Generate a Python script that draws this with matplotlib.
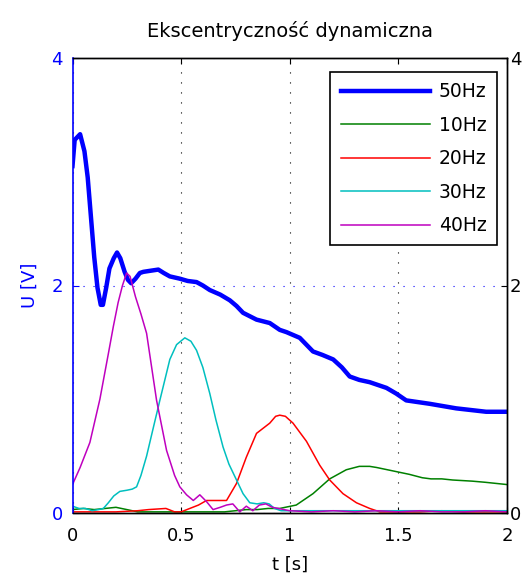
import matplotlib
matplotlib.use("Agg")
import matplotlib.pyplot as plt

plt.rcParams['font.family'] = ['DejaVu Sans']

title = "Ekscentryczność dynamiczna"
xlabel = "t [s]"
ylabel = "U [V]"
series_labels = ["50Hz", "10Hz", "20Hz", "30Hz", "40Hz"]
series_colors = ["#0000ff", "#008000", "#ff0000", "#00bfbf", "#bf00bf"]
xticks = [0, 0.5, 1, 1.5, 2]
xticklabels = ["0", "0.5", "1", "1.5", "2"]
yticks = [0, 2, 4]
yticklabels = ["0", "2", "4"]

t50 = [0, 0.01, 0.035, 0.055, 0.07, 0.085, 0.1, 0.115, 0.13, 0.14, 0.155, 0.17,
       0.19, 0.205, 0.22, 0.24, 0.255, 0.27, 0.29, 0.31, 0.326, 0.36, 0.395, 0.42,
       0.448, 0.494, 0.53, 0.571, 0.60, 0.632, 0.68, 0.724, 0.755, 0.785, 0.847,
       0.908, 0.954, 0.985, 1.046, 1.107, 1.15, 1.20, 1.24, 1.276, 1.32, 1.368,
       1.445, 1.49, 1.536, 1.644, 1.766, 1.904, 2.0]
u50 = [3.05, 3.28, 3.33, 3.18, 2.95, 2.60, 2.25, 1.98, 1.83, 1.83, 1.98, 2.15,
       2.24, 2.29, 2.24, 2.12, 2.05, 2.02, 2.06, 2.11, 2.12, 2.13, 2.14, 2.11,
       2.08, 2.06, 2.04, 2.03, 2.00, 1.96, 1.92, 1.87, 1.82, 1.76, 1.70,
       1.67, 1.61, 1.59, 1.54, 1.42, 1.39, 1.35, 1.28, 1.20, 1.17, 1.15,
       1.10, 1.05, 0.99, 0.96, 0.92, 0.89, 0.89]

t10 = [0, 0.05, 0.1, 0.15, 0.2, 0.25, 0.3, 0.4, 0.5, 0.6, 0.7, 0.75, 0.8, 0.85,
       0.9, 0.954, 1.03, 1.107, 1.184, 1.26, 1.32, 1.368, 1.40, 1.45, 1.5, 1.55,
       1.61, 1.65, 1.7, 1.75, 1.84, 1.9, 1.95, 2.0]
u10 = [0.03, 0.04, 0.03, 0.04, 0.05, 0.03, 0.01, 0.01, 0.01, 0.01, 0.01, 0.02,
       0.03, 0.03, 0.04, 0.04, 0.07, 0.17, 0.30, 0.38, 0.41, 0.41, 0.40, 0.38,
       0.36, 0.34, 0.31, 0.30, 0.30, 0.29, 0.28, 0.27, 0.26, 0.25]

t20 = [0, 0.1, 0.2, 0.3, 0.35, 0.43, 0.47, 0.5, 0.54, 0.58, 0.617, 0.66, 0.709,
       0.755, 0.80, 0.847, 0.908, 0.935, 0.954, 0.98, 1.015, 1.077, 1.138,
       1.184, 1.245, 1.307, 1.368, 1.414, 1.5, 1.6, 1.7, 1.8, 1.9, 2.0]
u20 = [0.01, 0.01, 0.01, 0.02, 0.03, 0.04, 0.01, 0.01, 0.04, 0.07, 0.11, 0.11,
       0.11, 0.26, 0.49, 0.70, 0.79, 0.85, 0.86, 0.85, 0.79, 0.63, 0.42,
       0.29, 0.17, 0.09, 0.04, 0.01, 0.01, 0.01, 0.02, 0.01, 0.01, 0.01]

t30 = [0, 0.03, 0.06, 0.09, 0.12, 0.142, 0.165, 0.19, 0.218, 0.25, 0.275,
       0.295, 0.315, 0.341, 0.372, 0.402, 0.448, 0.479, 0.517, 0.545, 0.571,
       0.60, 0.632, 0.66, 0.693, 0.72, 0.755, 0.785, 0.816, 0.85, 0.88, 0.905,
       0.93, 0.96, 1.1, 1.3, 1.5, 1.7, 1.9, 2.0]
u30 = [0.06, 0.04, 0.04, 0.02, 0.03, 0.04, 0.09, 0.15, 0.19, 0.20, 0.21,
       0.23, 0.33, 0.50, 0.75, 0.99, 1.35, 1.48, 1.54, 1.51, 1.43,
       1.28, 1.05, 0.82, 0.58, 0.43, 0.29, 0.17, 0.09, 0.08, 0.09, 0.08,
       0.04, 0.02, 0.02, 0.02, 0.02, 0.02, 0.02, 0.02]

t40 = [0, 0.035, 0.08, 0.126, 0.165, 0.188, 0.21, 0.23, 0.249, 0.265, 0.29,
       0.315, 0.341, 0.387, 0.433, 0.47, 0.494, 0.525, 0.556, 0.586, 0.617,
       0.647, 0.68, 0.709, 0.738, 0.77, 0.80, 0.83, 0.86, 0.89, 0.92, 1.0,
       1.1, 1.2, 1.3, 1.4, 1.5, 1.6, 1.7, 1.8, 1.9, 2.0]
u40 = [0.25, 0.40, 0.62, 1.00, 1.40, 1.64, 1.85, 2.00, 2.11, 2.08, 1.90,
       1.75, 1.58, 0.99, 0.55, 0.33, 0.23, 0.16, 0.11, 0.16, 0.10,
       0.03, 0.05, 0.07, 0.08, 0.01, 0.06, 0.02, 0.07, 0.08, 0.05, 0.02,
       0.01, 0.02, 0.01, 0.02, 0.01, 0.02, 0.01, 0.01, 0.02, 0.01]

ts = [t50, t10, t20, t30, t40]
us = [u50, u10, u20, u30, u40]
widths = [3.2, 1.1, 1.1, 1.1, 1.1]

fig = plt.figure(figsize=(5.22, 5.76), dpi=100)
ax = fig.add_axes([72.5 / 522, 63 / 576, 434.5 / 522, 455 / 576])

for t, u, lab, col, lw in zip(ts, us, series_labels, series_colors, widths):
    ax.plot(t, u, color=col, lw=lw, label=lab)

ax.set_xlim(0, 2)
ax.set_ylim(0, 4)
ax.set_xticks(xticks)
ax.set_xticklabels(xticklabels)
ax.set_yticks(yticks)
ax.set_yticklabels(yticklabels)

ax.xaxis.grid(True, color='black', linestyle=(0, (1, 8)), linewidth=0.8)
ax.yaxis.grid(True, color='#0000ff', linestyle=(0, (1, 8)), linewidth=0.8)

ax.tick_params(axis='x', direction='in', top=True, bottom=True, length=4,
               labelsize=13, pad=10, color='black')
ax.tick_params(axis='y', direction='in', left=True, right=False, length=4,
               labelsize=13, pad=7, color='#0000ff', labelcolor='#0000ff')

for s in ['top', 'right', 'bottom']:
    ax.spines[s].set_color('black')
    ax.spines[s].set_linewidth(1.0)
ax.spines['left'].set_color('#0000ff')
ax.spines['left'].set_linewidth(1.2)

ax2 = ax.twinx()
ax2.set_ylim(0, 4)
ax2.set_yticks(yticks)
ax2.set_yticklabels(yticklabels)
ax2.tick_params(axis='y', direction='in', right=True, length=4, labelsize=13,
                pad=2, color='black')
ax2.spines['left'].set_visible(False)
for s in ['top', 'right', 'bottom']:
    ax2.spines[s].set_color('black')
    ax2.spines[s].set_linewidth(1.0)

ax.set_title(title, fontsize=14, pad=15)
ax.set_xlabel(xlabel, fontsize=13, labelpad=8)
ax.set_ylabel(ylabel, fontsize=13, color='#0000ff', labelpad=9)

leg = ax2.legend(*ax.get_legend_handles_labels(), loc='upper right',
                 bbox_to_anchor=(0.977, 0.969), borderaxespad=0,
                 fontsize=13.5, handlelength=4.75, handletextpad=0.5,
                 labelspacing=0.77, borderpad=0.55, fancybox=False,
                 edgecolor='black', framealpha=1)
leg.get_frame().set_linewidth(1.2)

fig.savefig("out.png", dpi=100)
